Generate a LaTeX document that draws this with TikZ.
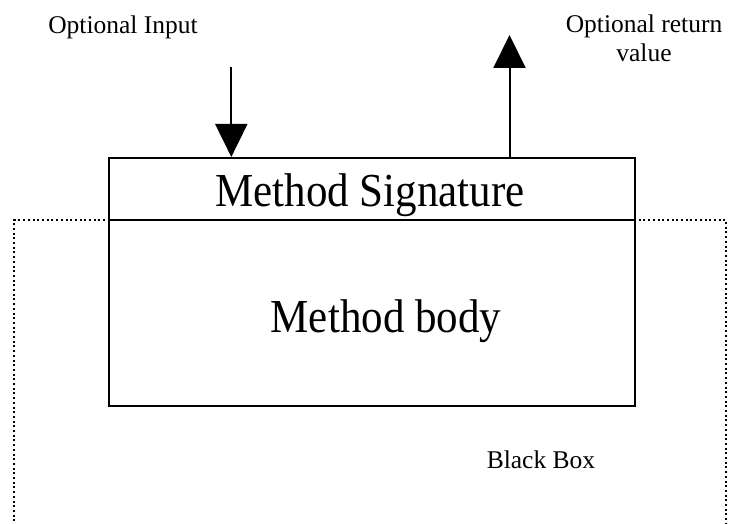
\documentclass[tikz,border=0pt]{standalone}
\usepackage{fontspec}
\setmainfont{Liberation Serif}
\usetikzlibrary{arrows.meta}
\newcommand{\tallbig}[1]{\scalebox{1}[1.1]{#1}}
\begin{document}
\begin{tikzpicture}[x=1pt,y=-1pt,
  bigtext/.style={font=\fontsize{43}{48}\selectfont, inner sep=0pt, anchor=base},
  smalltext/.style={font=\fontsize{25.5}{29}\selectfont, inner sep=0pt, anchor=base, align=center},
  boxline/.style={line width=2pt},
  flow/.style={line width=2pt, -{Triangle[width=32pt,length=33pt]}},
  dots/.style={line width=2pt, dash pattern=on 2pt off 2.7pt}]
\useasboundingbox (0,0) rectangle (733,524);
% main box
\node[boxline, draw, rectangle, minimum width=526pt, minimum height=248pt, inner sep=0pt, anchor=north west] (box) at (108,157) {};
\coordinate (divL) at (108,220);
\coordinate (divR) at (634,220);
\draw[line width=2.5pt] (divL) -- (divR);
% black box (dotted)
\coordinate (bbTL) at (14.3,220);
\coordinate (bbTR) at (726,220);
\coordinate (bbBL) at (14.3,526);
\coordinate (bbBR) at (726,526);
\draw[dots] (bbBL) -- (bbTL) -- (divL);
\draw[dots] (divR) -- (bbTR) -- (bbBR);
% texts
\node[bigtext] (sig) at (370,206.7) {\tallbig{Method Signature}};
\node[bigtext] (body) at (386,332) {\tallbig{Method body}};
\node[smalltext] (bb) at (541,468) {Black Box};
\node[smalltext] (inp) at (123,34) {Optional Input};
\node[smalltext, anchor=north] (ret) at (644,15) {Optional return\\value};
% arrows
\coordinate (inStart) at (231.3,66.7);
\coordinate (inEnd) at (231.3,157);
\draw[flow] (inStart) -- (inEnd);
\coordinate (outStart) at (509.5,157);
\coordinate (outEnd) at (509.5,35);
\draw[flow] (outStart) -- (outEnd);
\end{tikzpicture}
\end{document}
